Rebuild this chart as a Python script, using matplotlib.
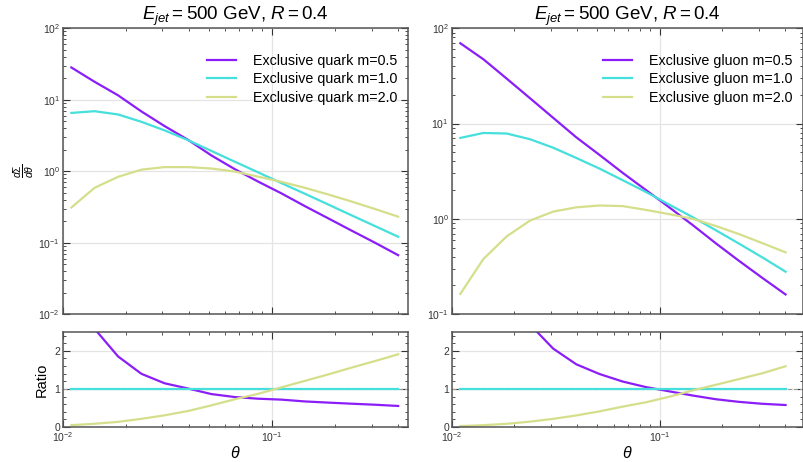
import matplotlib
matplotlib.use("Agg")
import matplotlib.pyplot as plt
import numpy as np
from matplotlib.ticker import LogLocator, MultipleLocator, NullFormatter

plt.rcParams.update({
    "font.family": ["Liberation Sans", "DejaVu Sans"],
    "mathtext.fontset": "custom",
    "mathtext.rm": "Liberation Sans",
    "mathtext.it": "Liberation Sans:italic",
    "mathtext.bf": "Liberation Sans:bold",
})

# angular points (theta)
theta = [0.0110, 0.0142, 0.0184, 0.0238, 0.0307, 0.0397, 0.0514, 0.0664,
         0.0859, 0.111, 0.144, 0.186, 0.240, 0.311, 0.402]

# quark jets
quark_m05 = [28.2, 17.8, 11.5, 6.84, 4.27, 2.75, 1.66, 1.07,
             0.716, 0.490, 0.324, 0.219, 0.148, 0.100, 0.0668]
quark_m10 = [6.53, 6.90, 6.21, 4.90, 3.72, 2.72, 1.92, 1.36,
             0.964, 0.682, 0.483, 0.342, 0.242, 0.171, 0.121]
quark_m20 = [0.310, 0.585, 0.834, 1.05, 1.14, 1.14, 1.09, 0.989,
             0.839, 0.710, 0.585, 0.472, 0.377, 0.296, 0.231]

# gluon jets
gluon_m05 = [69.5, 47.2, 29.5, 18.4, 11.5, 7.16, 4.67, 3.03,
             2.00, 1.32, 0.859, 0.553, 0.363, 0.240, 0.161]
gluon_m10 = [7.06, 7.96, 7.85, 6.84, 5.58, 4.35, 3.36, 2.54,
             1.91, 1.41, 1.04, 0.759, 0.550, 0.394, 0.279]
gluon_m20 = [0.163, 0.379, 0.656, 0.959, 1.19, 1.32, 1.38, 1.36,
             1.24, 1.12, 1.00, 0.841, 0.692, 0.556, 0.445]

mass_labels = ["m=0.5", "m=1.0", "m=2.0"]
colors = ["#8b1ef8", "#45dfdc", "#d5df8b"]
title = r"$E_{jet} = 500$ GeV, $R = 0.4$"

fig = plt.figure(figsize=(8.04, 4.62), dpi=100)

frame_color = "#555555"
grid_color = "#e4e4e4"


def style_axis(ax, logy=True):
    ax.set_xscale("log")
    if logy:
        ax.set_yscale("log")
        ax.yaxis.set_major_locator(LogLocator(base=10, numticks=10))
        ax.yaxis.set_minor_locator(LogLocator(base=10, subs=np.arange(2, 10), numticks=20))
        ax.yaxis.set_minor_formatter(NullFormatter())
    ax.xaxis.set_major_locator(LogLocator(base=10, numticks=10))
    ax.xaxis.set_minor_locator(LogLocator(base=10, subs=np.arange(2, 10), numticks=20))
    ax.xaxis.set_minor_formatter(NullFormatter())
    ax.tick_params(which="both", direction="in", top=True, right=True,
                   labelsize=7.5, colors="#333333", pad=2)
    ax.tick_params(which="major", length=5, width=0.8)
    ax.tick_params(which="minor", length=2.5, width=0.6)
    for s in ax.spines.values():
        s.set_color(frame_color)
        s.set_linewidth(1.1)
    ax.grid(True, which="major", color=grid_color, lw=0.9)
    ax.set_axisbelow(True)


panels = [
    ("quark", [quark_m05, quark_m10, quark_m20], 0.078, 0.430, (1e-2, 1e2), (0.01, 0.45)),
    ("gluon", [gluon_m05, gluon_m10, gluon_m20], 0.5618, 0.4375, (1e-1, 1e2), (0.01, 0.49)),
]

for i, (kind, series, left, width, ylim, xlim) in enumerate(panels):
    ax = fig.add_axes([left, 0.320, width, 0.619])
    rax = fig.add_axes([left, 0.0758, width, 0.206], sharex=ax)
    style_axis(ax)
    style_axis(rax, logy=False)

    ref = np.array(series[1])
    for vals, lab, c in zip(series, mass_labels, colors):
        ax.plot(theta, vals, color=c, lw=1.6, label=f"Exclusive {kind} {lab}")
        rax.plot(theta, np.array(vals) / ref, color=c, lw=1.6)
    rax.axhline(1.0, color="#999999", lw=0.8, ls="--", zorder=1)

    ax.set_ylim(*ylim)
    ax.set_xlim(*xlim)
    ax.tick_params(labelbottom=False)
    ax.set_title(title, fontsize=13.5, pad=3)
    ax.legend(loc="upper right", frameon=False, fontsize=10.3,
              handlelength=2.0, handletextpad=1.2, labelspacing=0.3,
              bbox_to_anchor=(1.005, 0.955))

    rax.set_ylim(0, 2.5)
    rax.yaxis.set_major_locator(MultipleLocator(1))
    rax.yaxis.set_minor_locator(MultipleLocator(0.2))
    rax.set_xlabel(r"$\theta$", fontsize=11.5, labelpad=1)

    if i == 0:
        ax.set_ylabel(r"$\frac{d\Sigma}{d\theta}$", fontsize=10.5, labelpad=2)
        rax.set_ylabel("Ratio", fontsize=10.5, labelpad=4)

fig.savefig("out.png", dpi=100)
